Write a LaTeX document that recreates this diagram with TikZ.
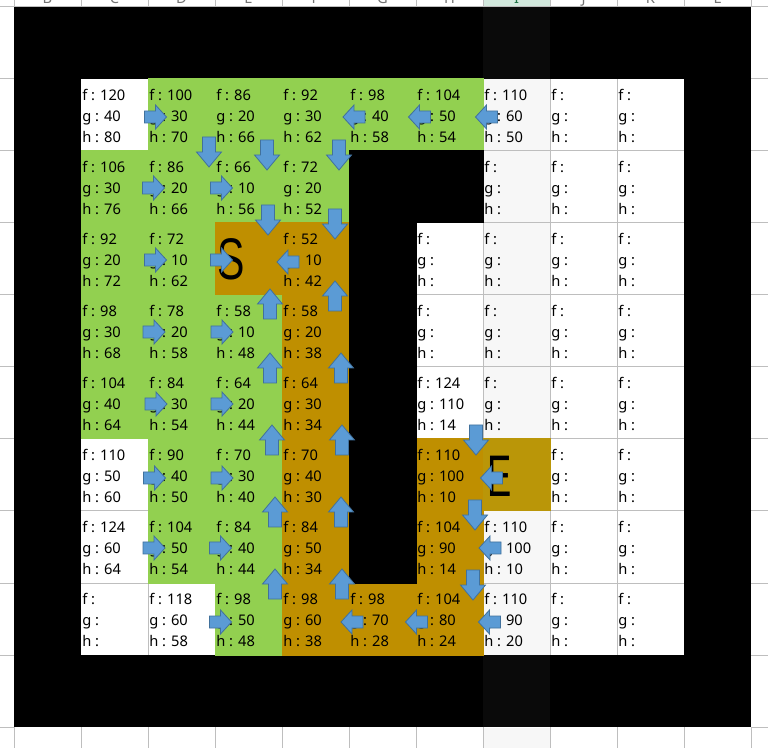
\documentclass[tikz,border=0pt]{standalone}
\usepackage{fontspec}
\setmainfont{Noto Sans}
\newfontfamily\bigfont{Liberation Sans}
\definecolor{gfill}{RGB}{146,208,80}
\definecolor{bfill}{RGB}{191,143,0}
\definecolor{efill}{RGB}{186,150,8}
\definecolor{abl}{RGB}{91,155,213}
\definecolor{abd}{RGB}{65,113,156}
\definecolor{gline}{RGB}{190,190,190}
\definecolor{selw}{RGB}{247,247,247}
\definecolor{selk}{RGB}{10,10,10}
\definecolor{hdrsel}{RGB}{211,233,222}
\definecolor{hdrgreen}{RGB}{33,115,70}
\newcommand\cellfill[3]{\fill[#3] ({81+67*#1-0.5},{79+72*#2-0.5}) rectangle ({81+67*(#1+1)+0.5},{79+72*(#2+1)+0.5});}
\newcommand\cellt[5]{%
  \node[ctext] (f-#1-#2) at ({81+67*#1+1},{79+72*#2+21.7}) {f : #3};
  \node[ctext] (g-#1-#2) at ({81+67*#1+1},{79+72*#2+42.5}) {g : #4};
  \node[ctext] (h-#1-#2) at ({81+67*#1+1},{79+72*#2+63.3}) {h : #5};}
\begin{document}
\begin{tikzpicture}[x=0.75pt,y=-0.75pt,
  ctext/.style={anchor=base west, inner sep=0pt, font=\fontsize{11}{13}\selectfont, text=black},
  arrowst/.style={fill=abl, draw=abd, line width=0.6pt, line join=miter},
  hdr/.style={anchor=base, inner sep=0pt, font=\fontsize{11}{13}\selectfont, text=black!55},
  gl/.style={draw=gline, line width=0.75pt},
  biglet/.style={inner sep=0pt, font=\bigfont\fontsize{44}{44}\selectfont, text=black},
  harr/.pic={\filldraw[arrowst] (-11,-6) -- (0,-6) -- (0,-12) -- (11,0) -- (0,12) -- (0,6) -- (-11,6) -- cycle;},
  varr/.pic={\filldraw[arrowst] (-15,-6.5) -- (0,-6.5) -- (0,-12.5) -- (15,0) -- (0,12.5) -- (0,6.5) -- (-15,6.5) -- cycle;}
]
\useasboundingbox (0,0) rectangle (768,748);
\fill[white] (0,0) rectangle (768,748);
% header band
\fill[hdrsel] (483,0) rectangle (550,7);
\begin{scope}
  \clip (0,0) rectangle (768,6.5);
  \foreach \L/\i in {B/0,C/1,D/2,E/3,F/4,G/5,H/6,J/8,K/9,L/10} {\node[hdr] (hd\L) at ({47.5+67*\i},3.8) {\L};}
  \node[hdr, text=hdrgreen] (hdI) at ({47.5+67*7},3.8) {I};
\end{scope}
\foreach \x in {14,81,...,751} {\draw[gl] (\x,0) -- (\x,7); \draw[gl] (\x,727) -- (\x,748);}
\draw[gl] (0,7) -- (768,7);
% margins
\fill[selw] (483,727.5) rectangle (550,748);
\foreach \x in {14,81,...,751} {\draw[gl] (\x,727) -- (\x,748);}
\foreach \y in {79,151,...,727} {\draw[gl] (0,\y) -- (14,\y); \draw[gl] (751,\y) -- (768,\y);}
% black frame
\fill[black] (14,7) rectangle (751,727);
\fill[selk] (483,7) rectangle (550,727);
% grid
\fill[white] (81,79) rectangle (684,655);
\fill[selw] (483,79) rectangle (550,655);
\foreach \x in {148,215,...,617} {\draw[gl] (\x,79) -- (\x,655);}
\foreach \y in {151,223,...,583} {\draw[gl] (81,\y) -- (684,\y);}
% green cells
\foreach \c/\r in {1/0,2/0,3/0,4/0,5/0, 0/1,1/1,2/1,3/1, 0/2,1/2, 0/3,1/3,2/3, 0/4,1/4,2/4, 1/5,2/5, 1/6,2/6, 2/7} {\cellfill{\c}{\r}{gfill}}
% brown cells
\foreach \c/\r in {2/2,3/2, 3/3, 3/4, 3/5,5/5, 3/6,5/6, 3/7,4/7,5/7} {\cellfill{\c}{\r}{bfill}}
\cellfill{6}{5}{efill}
% wall cells
\foreach \c/\r in {4/1,5/1, 4/2, 4/3, 4/4, 4/5, 4/6} {\cellfill{\c}{\r}{black}}
% texts
\cellt{0}{0}{120}{40}{80}\cellt{1}{0}{100}{30}{70}\cellt{2}{0}{86}{20}{66}\cellt{3}{0}{92}{30}{62}
\cellt{4}{0}{98}{40}{58}\cellt{5}{0}{104}{50}{54}\cellt{6}{0}{110}{60}{50}\cellt{7}{0}{}{}{}\cellt{8}{0}{}{}{}
\cellt{0}{1}{106}{30}{76}\cellt{1}{1}{86}{20}{66}\cellt{2}{1}{66}{10}{56}\cellt{3}{1}{72}{20}{52}
\cellt{6}{1}{}{}{}\cellt{7}{1}{}{}{}\cellt{8}{1}{}{}{}
\cellt{0}{2}{92}{20}{72}\cellt{1}{2}{72}{10}{62}\cellt{3}{2}{52}{10}{42}
\cellt{5}{2}{}{}{}\cellt{6}{2}{}{}{}\cellt{7}{2}{}{}{}\cellt{8}{2}{}{}{}
\cellt{0}{3}{98}{30}{68}\cellt{1}{3}{78}{20}{58}\cellt{2}{3}{58}{10}{48}\cellt{3}{3}{58}{20}{38}
\cellt{5}{3}{}{}{}\cellt{6}{3}{}{}{}\cellt{7}{3}{}{}{}\cellt{8}{3}{}{}{}
\cellt{0}{4}{104}{40}{64}\cellt{1}{4}{84}{30}{54}\cellt{2}{4}{64}{20}{44}\cellt{3}{4}{64}{30}{34}
\cellt{5}{4}{124}{110}{14}\cellt{6}{4}{}{}{}\cellt{7}{4}{}{}{}\cellt{8}{4}{}{}{}
\cellt{0}{5}{110}{50}{60}\cellt{1}{5}{90}{40}{50}\cellt{2}{5}{70}{30}{40}\cellt{3}{5}{70}{40}{30}
\cellt{5}{5}{110}{100}{10}\cellt{7}{5}{}{}{}\cellt{8}{5}{}{}{}
\cellt{0}{6}{124}{60}{64}\cellt{1}{6}{104}{50}{54}\cellt{2}{6}{84}{40}{44}\cellt{3}{6}{84}{50}{34}
\cellt{5}{6}{104}{90}{14}\cellt{6}{6}{110}{100}{10}\cellt{7}{6}{}{}{}\cellt{8}{6}{}{}{}
\cellt{0}{7}{}{}{}\cellt{1}{7}{118}{60}{58}\cellt{2}{7}{98}{50}{48}\cellt{3}{7}{98}{60}{38}
\cellt{4}{7}{98}{70}{28}\cellt{5}{7}{104}{80}{24}\cellt{6}{7}{110}{90}{20}\cellt{7}{7}{}{}{}\cellt{8}{7}{}{}{}
% start and end
\node[biglet] (S) at (231.5,259) {\scalebox{0.7}[1]{S}};
\node[biglet] (E) at (500,476) {\scalebox{0.62}[1]{E}};
% horizontal arrows
\foreach \x/\y in {155.5/117, 153.5/188, 221.5/188, 155.5/260, 221.5/260, 154/332, 222/332,
  156/404, 222/404, 154.5/478, 222/478, 154/548, 220.5/548, 220.5/622} {\pic at (\x,\y) {harr};}
\foreach \x/\y in {354/117, 419.5/117, 486.5/117, 288/262, 491.5/478, 490/548, 352/622, 416.5/622, 489.5/622} {\pic[rotate=180] at (\x,\y) {harr};}
% vertical arrows
\foreach \x/\y in {209/152, 267/155, 339/155, 268/220, 335/224, 476/440, 475/515, 473/585} {\pic[rotate=-90] at (\x,\y) {varr};}
\foreach \x/\y in {270/304, 335/296, 270/368, 341/368, 272/440, 342/440, 275/512, 341/512, 275/584, 342/584} {\pic[rotate=90] at (\x,\y) {varr};}
\end{tikzpicture}
\end{document}
